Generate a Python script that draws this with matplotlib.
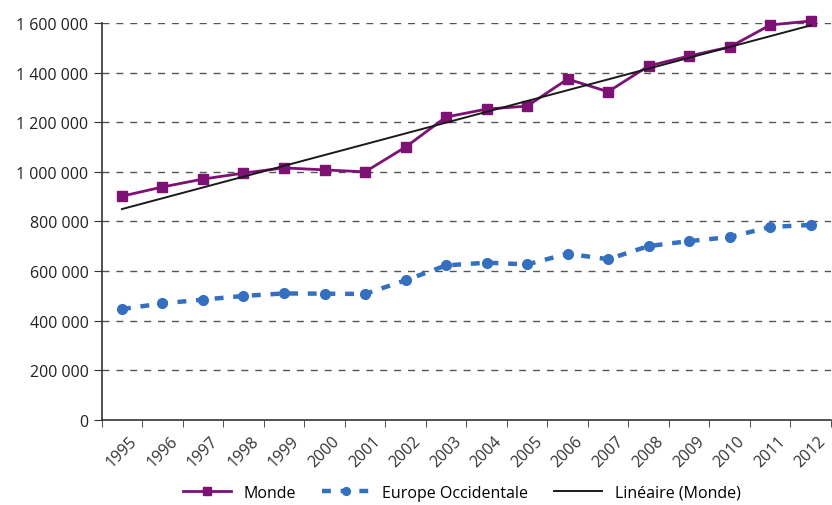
import numpy as np
import matplotlib.pyplot as plt
from matplotlib.ticker import FuncFormatter, MultipleLocator

years = [str(y) for y in range(1995, 2013)]
monde = [902000, 939000, 971000, 995000, 1016000, 1008000, 1000000, 1100000, 1221000,
         1253000, 1265000, 1374000, 1323000, 1427000, 1467000, 1503000, 1592000, 1608000]
europe = [447000, 470000, 485000, 500000, 510000, 509000, 508000, 563000, 623000,
          634000, 627000, 670000, 648000, 701000, 721000, 737000, 778000, 786000]

plt.rcParams['font.family'] = ['Open Sans', 'DejaVu Sans']

fig = plt.figure(figsize=(8.32, 5.06), dpi=100)
ax = fig.add_axes([0.1222, 0.168, 0.8766, 0.7846])

x = np.arange(len(years))

# linear trend of the world series
coef = np.polyfit(x, monde, 1)
trend = np.polyval(coef, x)

ax.plot(x, monde, color='#7d1174', lw=2, marker='s', ms=7, label='Monde',
        clip_on=False, zorder=3)
ax.plot(x, europe, color='#3470bf', lw=3.2, ls=(0, (2, 2.2)), marker='o', ms=7,
        label='Europe Occidentale', clip_on=False, zorder=3)
ax.plot(x, trend, color='#1a1a1a', lw=1.4, label='Linéaire (Monde)', clip_on=False, zorder=4)

ax.set_ylim(0, 1600000)
ax.set_xlim(-0.5, 17.29)
ax.yaxis.set_major_locator(MultipleLocator(200000))
ax.yaxis.set_major_formatter(FuncFormatter(lambda v, p: f'{int(v):,}'.replace(',', ' ')))

ax.set_xticks(x)
ax.set_xticklabels(years, rotation=45, ha='center', va='top')
ax.set_xticks(np.arange(-0.5, 18, 1), minor=True)
ax.tick_params(axis='x', which='major', length=0, pad=9, labelsize=11.5, colors='#333333')
ax.tick_params(axis='x', which='minor', length=5, color='#333333')
ax.tick_params(axis='y', length=6, color='#333333', labelsize=11.5, labelcolor='#222222')

for v in range(200000, 1600001, 200000):
    ax.axhline(v, color='#555555', lw=1, ls=(0, (5, 5)), zorder=1)

for s in ['top', 'right']:
    ax.spines[s].set_visible(False)
for s in ['left', 'bottom']:
    ax.spines[s].set_color('#333333')
    ax.spines[s].set_linewidth(1.2)

leg = fig.legend(loc='lower center', bbox_to_anchor=(0.555, -0.02), ncol=3, frameon=False,
                 fontsize=11.5, handlelength=3.0, columnspacing=1.6, markerscale=0.8)

fig.savefig('out.png', dpi=100)
